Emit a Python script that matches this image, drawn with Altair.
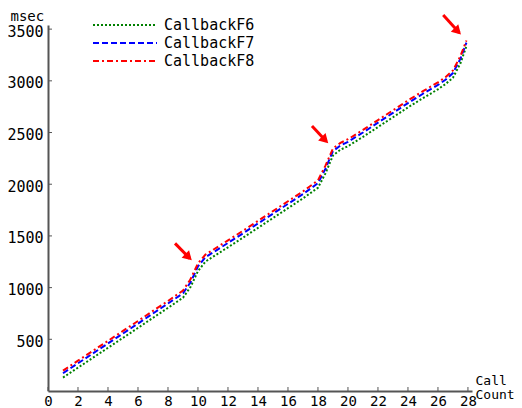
import altair as alt
import pandas as pd

# ---- data ----
calls = [1, 2, 3, 4, 5, 6, 7, 8, 9, 9.5, 10, 10.5, 11, 12, 13, 14, 15, 16, 17, 18,
         18.5, 19, 19.5, 20, 21, 22, 23, 24, 25, 26, 26.5, 27, 27.5, 27.9]
f6 = [130, 226, 322, 418, 514, 610, 708, 804, 902, 1005, 1160, 1252, 1298, 1390, 1483,
      1578, 1673, 1768, 1863, 1966, 2105, 2278, 2334, 2368, 2458, 2553, 2648, 2743,
      2833, 2918, 2968, 3030, 3170, 3336]
f7 = [172, 268, 364, 460, 556, 652, 750, 846, 945, 1050, 1205, 1295, 1340, 1432, 1525,
      1620, 1715, 1810, 1905, 2010, 2150, 2320, 2375, 2410, 2500, 2595, 2690, 2785,
      2875, 2960, 3010, 3075, 3215, 3370]
f8 = [197, 293, 389, 485, 581, 677, 775, 871, 972, 1080, 1235, 1320, 1365, 1457, 1550,
      1645, 1740, 1835, 1930, 2038, 2180, 2345, 2400, 2435, 2525, 2620, 2715, 2810,
      2900, 2985, 3035, 3100, 3240, 3390]

series_names = ["CallbackF6", "CallbackF7", "CallbackF8"]
series_colors = ["#008000", "#0000ff", "#ff0000"]
series_dashes = [[2, 2], [6, 3], [6, 3, 2, 3]]

y_tick_values = [500, 1000, 1500, 2000, 2500, 3000, 3500]
x_tick_values = [0, 2, 4, 6, 8, 10, 12, 14, 16, 18, 20, 22, 24, 26, 28]

# annotation arrows (data coordinates)
arrow_id = [1, 2, 3]
arrow_tail_x = [8.47, 17.6, 26.35]
arrow_tail_y = [1428, 2563, 3636]
arrow_tip_x = [9.45, 18.55, 27.42]
arrow_tip_y = [1283, 2415, 3466]
arrow_head_x = [9.3, 18.4, 27.25]
arrow_head_y = [1305, 2438, 3490]

FONT = "DejaVu Sans Mono"
FS = 15
W, H = 424, 366

rows = []
for name, vals in zip(series_names, [f6, f7, f8]):
    for xv, yv in zip(calls, vals):
        rows.append({"call": xv, "msec": yv, "series": name})
df = pd.DataFrame(rows)

arrow_rows = []
for i, tx, ty, hx, hy in zip(arrow_id, arrow_tail_x, arrow_tail_y, arrow_tip_x, arrow_tip_y):
    arrow_rows.append({"arrow": i, "order": 0, "call": tx, "msec": ty})
    arrow_rows.append({"arrow": i, "order": 1, "call": hx, "msec": hy})
arrow_df = pd.DataFrame(arrow_rows)
head_df = pd.DataFrame({"call": arrow_head_x, "msec": arrow_head_y})

xscale = alt.Scale(domain=[0, 28.27], nice=False, zero=False)
yscale = alt.Scale(domain=[0, 3540], nice=False, zero=False)

xaxis = alt.Axis(values=x_tick_values, ticks=False, grid=False, domainColor="#555555",
                 domainWidth=2, labelFont=FONT, labelFontSize=14, labelColor="#000000",
                 labelPadding=3, labelFlush=False, labelOverlap=False, format="d",
                 title=["Call", "Count"], titleFont=FONT, titleFontSize=13,
                 titleFontWeight="normal", titleColor="#000000",
                 titleX=427, titleY=-17, titleAlign="left", titleBaseline="top",
                 titleLineHeight=14)
yaxis = alt.Axis(values=y_tick_values, ticks=False, grid=False, domainColor="#555555",
                 domainWidth=2, labelFont=FONT, labelFontSize=FS, labelColor="#000000",
                 labelPadding=5, labelOverlap=False, format="d", labelOffset=2,
                 title="msec", titleFont=FONT, titleFontSize=14, titleFontWeight="normal",
                 titleColor="#000000", titleAngle=0, titleX=-38, titleY=-9,
                 titleAlign="left", titleBaseline="middle")

legend_kw = dict(orient="none", legendX=68, legendY=-9, title=None,
                 symbolType="M-4,0H4", symbolSize=256, symbolStrokeWidth=2,
                 labelFont=FONT, labelFontSize=FS, labelColor="#000000",
                 labelOffset=30, rowPadding=1, padding=0)

X = alt.X("call:Q", scale=xscale, axis=xaxis)
Y = alt.Y("msec:Q", scale=yscale, axis=yaxis)

lines = alt.Chart(df).mark_line(strokeWidth=2).encode(
    x=X, y=Y,
    color=alt.Color("series:N", scale=alt.Scale(domain=series_names, range=series_colors),
                    legend=alt.Legend(**legend_kw)),
    strokeDash=alt.StrokeDash("series:N",
                              scale=alt.Scale(domain=series_names, range=series_dashes),
                              legend=alt.Legend(**legend_kw)),
)

ytick_df = pd.DataFrame({"msec": y_tick_values})
xtick_df = pd.DataFrame({"call": x_tick_values})
yticks = alt.Chart(ytick_df).mark_rule(color="#555555", strokeWidth=1).encode(
    y=Y, x=alt.value(0), x2=alt.value(4))
xticks = alt.Chart(xtick_df).mark_rule(color="#555555", strokeWidth=1).encode(
    x=X, y=alt.value(H), y2=alt.value(H - 4))

arrows = alt.Chart(arrow_df).mark_line(color="#ff0000", strokeWidth=3, clip=False).encode(
    x=X, y=Y, detail="arrow:N", order="order:Q")
heads = alt.Chart(head_df).mark_point(shape="triangle", angle=135, filled=True,
                                      color="#ff0000", opacity=1, size=110,
                                      clip=False).encode(x=X, y=Y)

chart = alt.layer(lines, yticks, xticks, arrows, heads).properties(
    width=W, height=H,
    autosize=alt.AutoSizeParams(type="none"),
    padding={"left": 40, "top": 17, "right": 42, "bottom": 17},
).configure_view(stroke=None)

chart.save("out.html", embed_options={"renderer": "svg", "actions": False})
